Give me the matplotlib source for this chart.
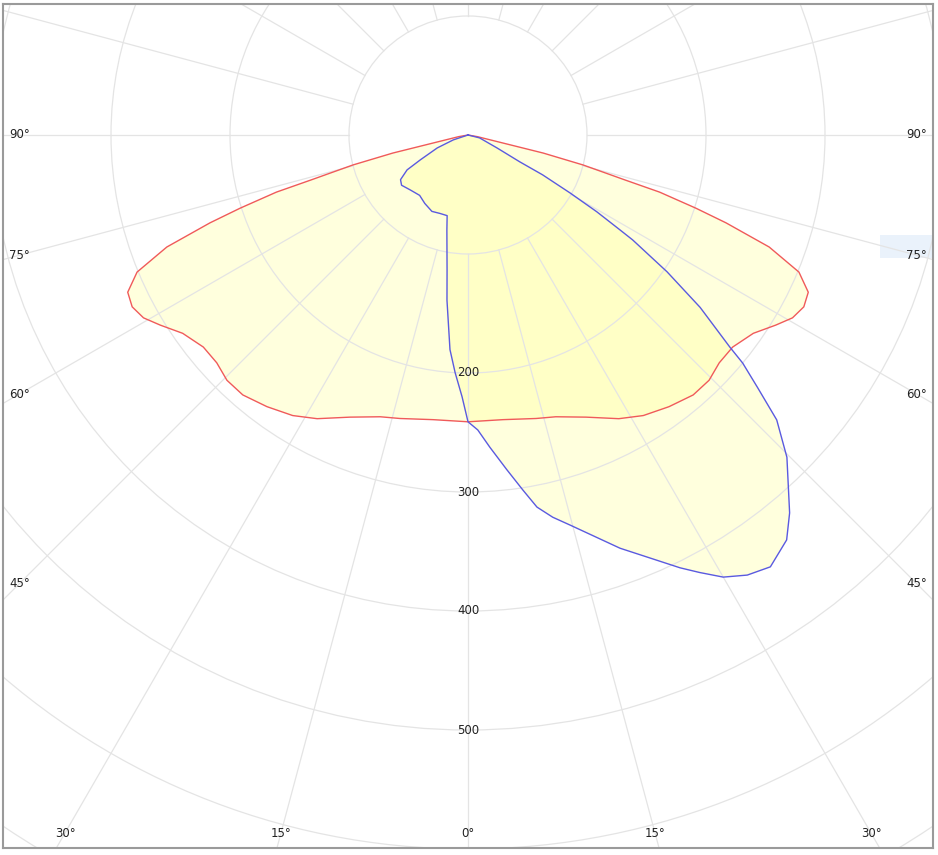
import numpy as np
import matplotlib
matplotlib.use("Agg")
import matplotlib.pyplot as plt
from matplotlib.patches import Circle, Rectangle

# --- C0-C180 plane (red), signed gamma angle in degrees, intensity in cd ---
red_gamma = [-90, -80, -76.5, -75.4, -74, -73.4, -72.2, -71.2, -70.8, -69.6,
             -67.5, -65.2, -62.9, -60.6, -58.3, -55.2, -51.3, -47.8, -44.5,
             -40.9, -36.5, -32, -28, -22.7, -17.3, -13.5, -7, 0,
             7, 13.5, 17.3, 22.7, 28, 32, 36.5, 40.9, 44.5, 47.8, 51.3, 55.2,
             58.3, 60.6, 62.9, 65.2, 67.5, 69.6, 70.8, 71.2, 72.2, 73.4, 74,
             75.4, 76.5, 80, 90]
red_cd = [0, 8, 65, 100, 138, 168, 201, 229, 238, 270,
          301, 315, 317, 313, 304, 292, 285, 285, 289,
          289, 284, 278, 270, 257, 248, 245, 241, 241,
          241, 245, 248, 257, 270, 278, 284, 289, 289, 285, 285, 292,
          304, 313, 317, 315, 301, 270, 238, 229, 201, 168, 138,
          100, 65, 8, 0]

# --- C90-C270 plane (blue) ---
blue_gamma = [-90, -71.6, -67.2, -62.5, -60.2, -56.5, -52.9, -46.5, -38.7,
              -32.3, -25.3, -19.7, -14.5, -12.5, -8.8, -7.25, -4.8, -3.1,
              -1.3, 0, 1.9, 4.0, 6.6, 8.8, 10.5, 12.5, 14.7, 20.2, 26.1,
              27.9, 30.0, 32.4, 35.0, 38.2, 40.4, 44.7, 47.3, 48.9, 50.3,
              51.0, 53.4, 55.5, 57.5, 58.0, 59.2, 60.4, 61.9, 62.6, 65.9,
              76, 90]
blue_cd = [0, 13, 28, 45, 59, 68, 70, 67, 65,
           68, 71, 70, 70, 82, 115, 140, 181, 200,
           220, 241, 248, 263, 283, 302, 318, 329, 339, 370, 405,
           416, 429, 438, 443, 433, 417, 381, 353, 323, 300,
           283, 243, 203, 164, 151, 126, 99, 71, 49, 27,
           10, 0]

ring_values = [100, 200, 300, 400, 500, 600, 700, 800]
ring_labels = [200, 300, 400, 500]
angle_ticks = [0, 15, 30, 45, 60, 75, 90]


def to_xy(gamma, cd):
    g = np.radians(np.asarray(gamma, float))
    r = np.asarray(cd, float)
    return r * np.sin(g), -r * np.cos(g)


PX = 1.19            # pixels per cd
CX, CY = 468, 135    # pole position in pixels
W, H = 938, 855

fig = plt.figure(figsize=(W / 100, H / 100), dpi=100)
ax = fig.add_axes([3 / W, (H - 848) / H, 930 / W, 844 / H])
ax.set_xlim((3 - CX) / PX, (933 - CX) / PX)
ax.set_ylim((CY - 848) / PX, (CY - 4) / PX)
ax.set_xticks([]); ax.set_yticks([])
for s in ax.spines.values():
    s.set_color("#9a9a9a"); s.set_linewidth(1.5)

# grid
grid_c = "#e4e4e4"
for r in ring_values:
    ax.add_patch(Circle((0, 0), r, fill=False, ec=grid_c, lw=0.9, zorder=2))
for a in range(0, 360, 15):
    t = np.radians(a)
    ax.plot([100 * np.sin(t), 900 * np.sin(t)], [-100 * np.cos(t), -900 * np.cos(t)],
            color=grid_c, lw=0.9, zorder=2)

# curves
rx, ry = to_xy(red_gamma, red_cd)
bx, by = to_xy(blue_gamma, blue_cd)
ax.fill(rx, ry, color="#ffff99", alpha=0.33, lw=0, zorder=1)
ax.fill(bx, by, color="#ffff99", alpha=0.33, lw=0, zorder=1)
ax.plot(rx, ry, color="#f05a5a", lw=1.0, zorder=3)
ax.plot(bx, by, color="#5a5ae0", lw=1.0, zorder=3)

# hover highlight at right
ax.add_patch(Rectangle(((880 - CX) / PX, (CY - 258) / PX), 53 / PX, 23 / PX,
                       fc="#eaf2fb", ec="none", zorder=1))

# labels
tc = "#222222"
fs = 8.5
side_x = 377          # label centre distance from the pole, cd units
bottom_y = -(833 - CY) / PX
for a in angle_ticks:
    t = np.radians(a)
    if a >= 45:
        y = -side_x / np.tan(t) if a < 90 else 0.0
        ax.text(-side_x, y, f"{a}°", ha="center", va="center", fontsize=fs, color=tc, zorder=4)
        ax.text(side_x, y, f"{a}°", ha="center", va="center", fontsize=fs, color=tc, zorder=4)
    if a <= 30:
        x = -bottom_y * np.tan(t)
        ax.text(-x, bottom_y, f"{a}°", ha="center", va="center", fontsize=fs, color=tc, zorder=4)
        if a > 0:
            ax.text(x, bottom_y, f"{a}°", ha="center", va="center", fontsize=fs, color=tc, zorder=4)

for r in ring_labels:
    ax.text(0, -r, str(r), ha="center", va="center", fontsize=fs, color=tc, zorder=4)

fig.savefig("out.png", dpi=100)
